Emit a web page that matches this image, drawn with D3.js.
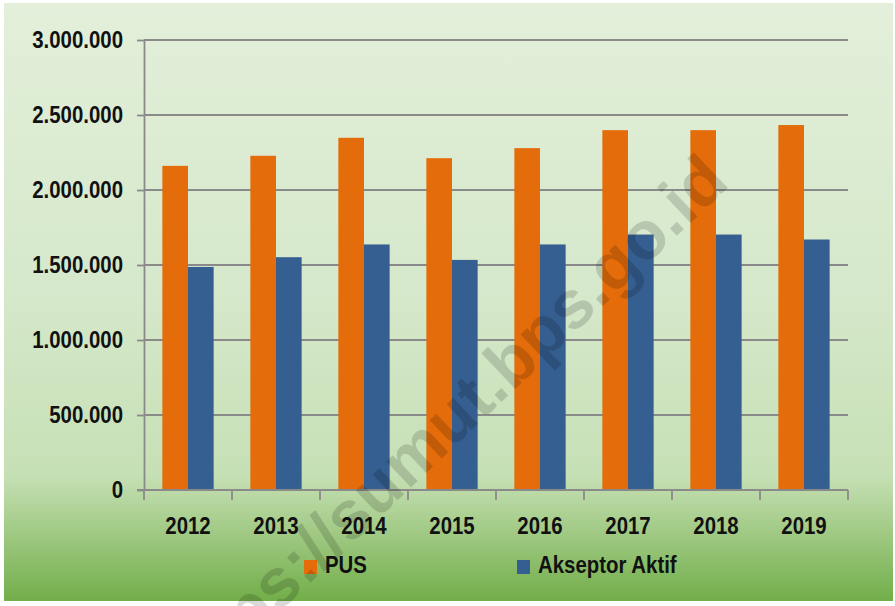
<!DOCTYPE html>
<html>
<head>
<meta charset="utf-8">
<script src="https://cdn.jsdelivr.net/npm/d3@7"></script>
<style>
  html, body { margin: 0; padding: 0; background: #fff; }
  svg { display: block; }
  text { font-family: "Liberation Sans", Arial, sans-serif; font-weight: bold; fill: #111; }
</style>
</head>
<body>
<div id="chart"></div>
<script>
// data
var years = ["2012", "2013", "2014", "2015", "2016", "2017", "2018", "2019"];
var seriesNames = ["PUS", "Akseptor Aktif"];
var pus = [2161000, 2228000, 2348000, 2212000, 2279000, 2399000, 2399000, 2433000];
var akseptor = [1487000, 1552000, 1637000, 1534000, 1637000, 1703000, 1703000, 1670000];
var yTicks = [0, 500000, 1000000, 1500000, 2000000, 2500000, 3000000];
var colors = ["#E46C0A", "#365F91"];

var W = 895, H = 606;
var plotLeft = 144, plotRight = 848, plotTop = 40, plotBottom = 490;

var svg = d3.select("#chart").append("svg")
  .attr("width", W)
  .attr("height", H);

// background gradient
var defs = svg.append("defs");
var grad = defs.append("linearGradient")
  .attr("id", "bg")
  .attr("x1", 0).attr("y1", 0).attr("x2", 0).attr("y2", 1);
grad.append("stop").attr("offset", "0%").attr("stop-color", "#e3efda");
grad.append("stop").attr("offset", "50%").attr("stop-color", "#d5e8ca");
grad.append("stop").attr("offset", "79%").attr("stop-color", "#c6e0b5");
grad.append("stop").attr("offset", "88%").attr("stop-color", "#a3cb87");
grad.append("stop").attr("offset", "100%").attr("stop-color", "#72ae49");

svg.append("rect")
  .attr("x", 4).attr("y", 3)
  .attr("width", 889).attr("height", 598)
  .attr("fill", "url(#bg)");

var y = d3.scaleLinear().domain([0, 3000000]).range([plotBottom, plotTop]);
var x0 = d3.scaleBand().domain(years).range([plotLeft, plotRight])
  .paddingInner(0.417).paddingOuter(0.2085);
var x1 = d3.scaleBand().domain(seriesNames).range([0, x0.bandwidth()]);

var fmt = d3.formatLocale({decimal: ",", thousands: ".", grouping: [3], currency: ["", ""]}).format(",");

// gridlines
svg.append("g")
  .selectAll("line")
  .data(yTicks.filter(function(d) { return d > 0; }))
  .enter().append("line")
  .attr("x1", plotLeft).attr("x2", plotRight)
  .attr("y1", function(d) { return y(d); })
  .attr("y2", function(d) { return y(d); })
  .attr("stroke", "#8a8a8a")
  .attr("stroke-width", 1.8);

// bars
var rows = years.map(function(yr, i) {
  return {year: yr, values: [pus[i], akseptor[i]]};
});

var groups = svg.append("g")
  .selectAll("g")
  .data(rows)
  .enter().append("g")
  .attr("transform", function(d) { return "translate(" + x0(d.year) + ",0)"; });

groups.selectAll("rect")
  .data(function(d) { return d.values.map(function(v, k) { return {name: seriesNames[k], value: v, k: k}; }); })
  .enter().append("rect")
  .attr("x", function(d) { return x1(d.name); })
  .attr("y", function(d) { return y(d.value); })
  .attr("width", x1.bandwidth())
  .attr("height", function(d) { return plotBottom - y(d.value); })
  .attr("fill", function(d) { return colors[d.k]; });

// y axis
var yAxis = svg.append("g")
  .attr("transform", "translate(" + plotLeft + ",0)")
  .call(d3.axisLeft(y).tickValues(yTicks).tickFormat(fmt).tickSizeInner(7).tickSizeOuter(0).tickPadding(14));
yAxis.select(".domain").attr("stroke", "#8a8a8a").attr("stroke-width", 1.8);
yAxis.selectAll(".tick line").attr("stroke", "#8a8a8a").attr("stroke-width", 1.8);
yAxis.selectAll("text").attr("font-size", 24).attr("fill", "#111").attr("font-family", null);

// x axis (labels at centers, ticks at category boundaries)
var xAxis = svg.append("g")
  .attr("transform", "translate(0," + plotBottom + ")")
  .call(d3.axisBottom(x0).tickSize(0).tickPadding(27));
xAxis.select(".domain").remove();
xAxis.selectAll("text").attr("font-size", 24).attr("fill", "#111").attr("font-family", null);

var step = x0.step();
svg.append("line")
  .attr("x1", plotLeft - 7).attr("x2", plotRight)
  .attr("y1", plotBottom).attr("y2", plotBottom)
  .attr("stroke", "#8a8a8a").attr("stroke-width", 1.8);
svg.append("g")
  .selectAll("line")
  .data(d3.range(years.length + 1))
  .enter().append("line")
  .attr("x1", function(i) { return plotLeft + i * step; })
  .attr("x2", function(i) { return plotLeft + i * step; })
  .attr("y1", plotBottom).attr("y2", plotBottom + 10)
  .attr("stroke", "#8a8a8a").attr("stroke-width", 1.8);

// legend
var legendX = [304, 517];
var legend = svg.append("g")
  .selectAll("g")
  .data(seriesNames)
  .enter().append("g")
  .attr("transform", function(d, i) { return "translate(" + legendX[i] + ",560)"; });
legend.append("rect")
  .attr("width", 13).attr("height", 14)
  .attr("fill", function(d, i) { return colors[i]; });
legend.append("text")
  .attr("x", 21).attr("y", 13)
  .attr("font-size", 24)
  .text(function(d) { return d; });

// squeeze the labels a bit, the original font is a narrow one
svg.selectAll("g text").each(function() {
  var w = this.getComputedTextLength();
  d3.select(this).attr("textLength", w * 0.85).attr("lengthAdjust", "spacingAndGlyphs");
});

// watermark
svg.append("text")
  .attr("transform", "translate(446,430) rotate(-43.4)")
  .attr("text-anchor", "middle")
  .attr("dy", "0.26em")
  .style("font-size", "68px")
  .style("fill", "#000")
  .style("fill-opacity", 0.15)
  .text("https://sumut.bps.go.id");
</script>
</body>
</html>
